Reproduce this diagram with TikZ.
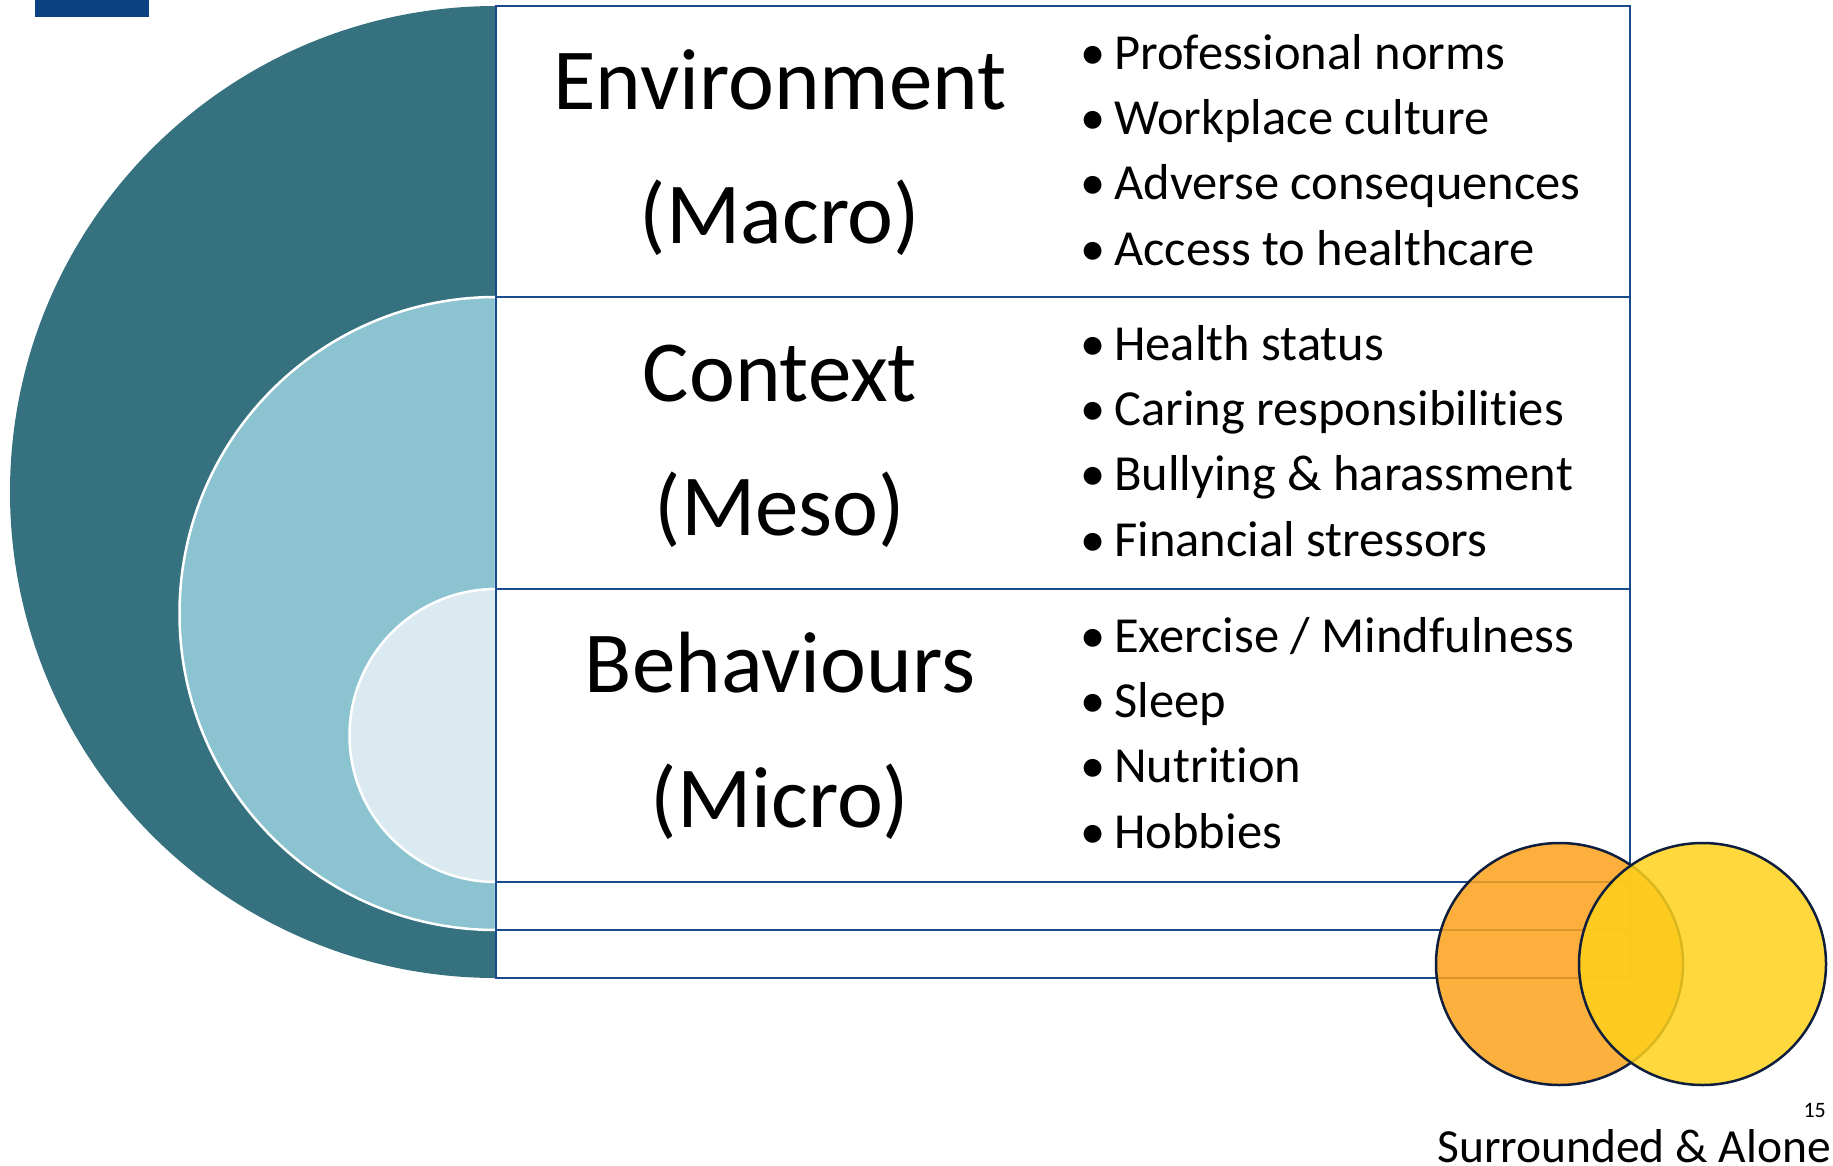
\documentclass[tikz,border=0pt]{standalone}
\usepackage{fontspec}
\setmainfont[Ligatures=NoCommon]{Carlito}
\definecolor{deepteal}{RGB}{54,113,128}
\definecolor{midteal}{RGB}{139,195,208}
\definecolor{paleteal}{RGB}{218,234,240}
\definecolor{boxblue}{RGB}{25,75,140}
\definecolor{logoblue}{RGB}{11,65,130}
\definecolor{vennline}{RGB}{15,30,60}
\definecolor{vennorange}{RGB}{252,162,28}
\definecolor{vennyellow}{RGB}{254,209,27}

\begin{document}
\begin{tikzpicture}[x=1pt,y=-1pt,
	title/.style={font=\fontsize{87}{90}\selectfont, anchor=base, inner sep=0pt},
	item/.style={font=\fontsize{50.5}{55}\selectfont, anchor=base west, inner sep=0pt},
	box/.style={draw=boxblue, line width=2.8pt, fill=white},
	venn/.style={draw=vennline, line width=2.5pt, fill opacity=0.85}]
	\useasboundingbox (0,0) rectangle (1833,1166);

	% corner tag
	\fill[logoblue] (35,0) rectangle (149,17);

	% half discs
	\fill[deepteal] (496,978) arc[start angle=90, end angle=270, radius=486] -- cycle;
	\filldraw[fill=midteal, draw=white, line width=2.5pt] (496,930) arc[start angle=90, end angle=270, radius=316.5] -- cycle;
	\filldraw[fill=paleteal, draw=white, line width=2.5pt] (496,882) arc[start angle=90, end angle=270, radius=146.5] -- cycle;

	% boxes
	\draw[box] (496,6) rectangle (1630,978);
	\draw[box] (496,297) rectangle (1630,930);
	\draw[box] (496,589) rectangle (1630,882);

	% titles
	\node[title] (env) at (780,110) {Environment};
	\node[title] (macro) at (780,244) {(Macro)};
	\node[title] (ctx) at (780,401) {Context};
	\node[title] (meso) at (780,535) {(Meso)};
	\node[title] (beh) at (780,692) {Behaviours};
	\node[title] (micro) at (780,827) {(Micro)};

	% items
	\node[item] (e1) at (1080,69.5) {\textbullet\hspace{9pt}Professional norms};
	\node[item] (e2) at (1080,134.7) {\textbullet\hspace{9pt}Workplace culture};
	\node[item] (e3) at (1080,199.9) {\textbullet\hspace{9pt}Adverse consequences};
	\node[item] (e4) at (1080,265.1) {\textbullet\hspace{9pt}Access to healthcare};

	\node[item] (c1) at (1080,360.5) {\textbullet\hspace{9pt}Health status};
	\node[item] (c2) at (1080,425.7) {\textbullet\hspace{9pt}Caring responsibilities};
	\node[item] (c3) at (1080,490.9) {\textbullet\hspace{9pt}Bullying \& harassment};
	\node[item] (c4) at (1080,556.1) {\textbullet\hspace{9pt}Financial stressors};

	\node[item] (b1) at (1080,652.5) {\textbullet\hspace{9pt}Exercise / Mindfulness};
	\node[item] (b2) at (1080,717.7) {\textbullet\hspace{9pt}Sleep};
	\node[item] (b3) at (1080,782.9) {\textbullet\hspace{9pt}Nutrition};
	\node[item] (b4) at (1080,848.1) {\textbullet\hspace{9pt}Hobbies};

	% venn
	\draw[venn, fill=vennorange] (1559.5,964) ellipse[x radius=123.5, y radius=121];
	\draw[venn, fill=vennyellow] (1702.5,964) ellipse[x radius=123.5, y radius=121];

	\node[font=\fontsize{22}{24}\selectfont, anchor=base east, inner sep=0pt] (page) at (1826,1117) {15};
	\node[font=\fontsize{47.5}{50}\selectfont, anchor=base east, inner sep=0pt] (footer) at (1831,1162) {Surrounded \& Alone};
\end{tikzpicture}
\end{document}
